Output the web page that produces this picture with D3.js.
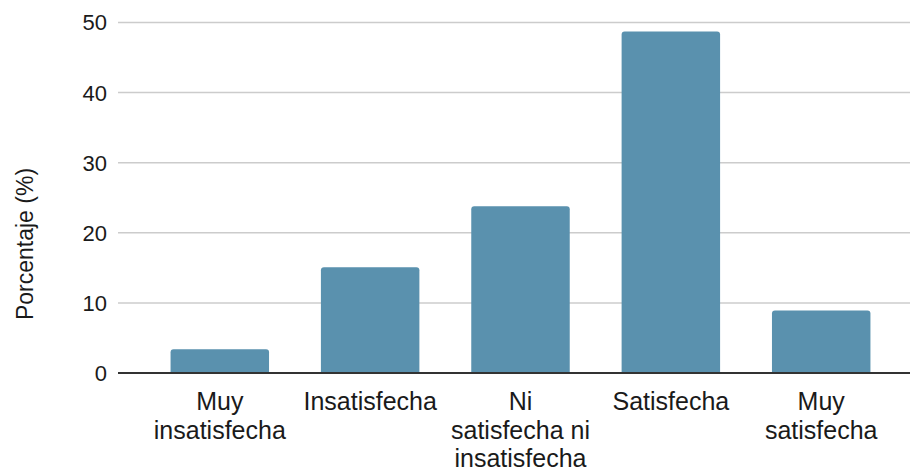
<!DOCTYPE html>
<html>
<head>
<meta charset="utf-8">
<script src="https://cdn.jsdelivr.net/npm/d3@7"></script>
<style>
  body { margin: 0; background: #fff; }
  text { font-family: "Liberation Sans", Arial, sans-serif; fill: #1a1a1a; }
</style>
</head>
<body>
<div id="chart"></div>
<script>
const categories = ["Muy insatisfecha", "Insatisfecha", "Ni satisfecha ni insatisfecha", "Satisfecha", "Muy satisfecha"];
const labelLines = [["Muy", "insatisfecha"], ["Insatisfecha"], ["Ni", "satisfecha ni", "insatisfecha"], ["Satisfecha"], ["Muy", "satisfecha"]];
const values = [3.4, 15.1, 23.8, 48.7, 8.9];
const yTicks = [0, 10, 20, 30, 40, 50];

const width = 910, height = 471;

const svg = d3
  .select("#chart")
  .append("svg")
  .attr("width", width)
  .attr("height", height);

const x = d3
  .scaleBand()
  .domain(categories)
  .range([145, 896])
  .paddingInner(0.345)
  .paddingOuter(0.17);

const y = d3.scaleLinear().domain([0, 50]).range([373, 22.5]);

// gridlines
svg
  .append("g")
  .selectAll("line")
  .data(yTicks.filter((d) => d > 0))
  .enter()
  .append("line")
  .attr("x1", 118)
  .attr("x2", width)
  .attr("y1", (d) => y(d))
  .attr("y2", (d) => y(d))
  .attr("stroke", "#cccccc")
  .attr("stroke-width", 1.5);

// y tick labels
svg
  .append("g")
  .selectAll("text")
  .data(yTicks)
  .enter()
  .append("text")
  .attr("x", 107)
  .attr("y", (d) => y(d))
  .attr("dy", "0.36em")
  .attr("text-anchor", "end")
  .style("font-size", "22px")
  .text((d) => d);

// bars with rounded top corners
const r = 3;
svg
  .append("g")
  .selectAll("path")
  .data(values)
  .enter()
  .append("path")
  .attr("fill", "#5a91ae")
  .attr("d", (d, i) => {
    const x0 = x(categories[i]), w = x.bandwidth();
    const y0 = y(d), y1 = y(0);
    return `M${x0},${y1}V${y0 + r}Q${x0},${y0} ${x0 + r},${y0}H${x0 + w - r}Q${x0 + w},${y0} ${x0 + w},${y0 + r}V${y1}Z`;
  });

// baseline
svg
  .append("line")
  .attr("x1", 118)
  .attr("x2", width)
  .attr("y1", y(0))
  .attr("y2", y(0))
  .attr("stroke", "#333")
  .attr("stroke-width", 2);

// category labels
const labels = svg
  .append("g")
  .selectAll("text")
  .data(categories)
  .enter()
  .append("text")
  .attr("x", (d) => x(d) + x.bandwidth() / 2)
  .attr("y", 410)
  .attr("text-anchor", "middle")
  .style("font-size", "25px");

labels
  .selectAll("tspan")
  .data((d, i) => labelLines[i])
  .enter()
  .append("tspan")
  .attr("x", function () {
    return this.parentNode.getAttribute("x");
  })
  .attr("dy", (d, j) => (j === 0 ? 0 : 28.5))
  .text((d) => d);

// y axis title
svg
  .append("text")
  .attr("transform", "translate(33,244) rotate(-90)")
  .attr("text-anchor", "middle")
  .style("font-size", "23px")
  .text("Porcentaje (%)");
</script>
</body>
</html>
